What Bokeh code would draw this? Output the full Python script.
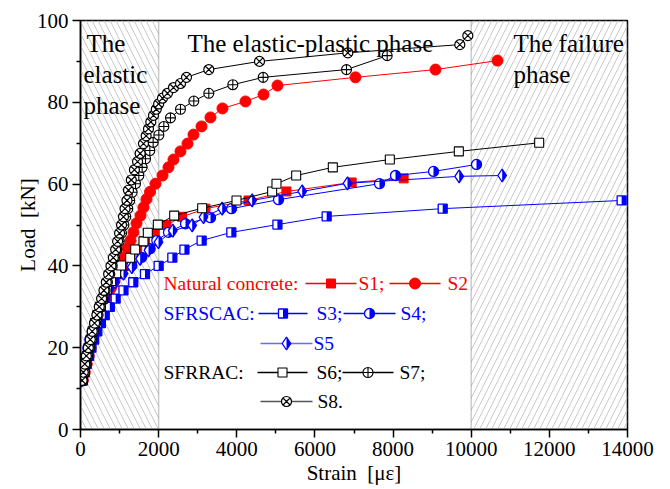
import math
from bokeh.plotting import figure
from bokeh.models import Range1d, FixedTicker, BoxAnnotation, Label
from bokeh.embed import file_html
from bokeh.resources import INLINE

FONT = "Liberation Serif"
RED = "#ff0000"
BLUE = "#0000ff"
BLACK = "#000000"

# ---------------- data (strain in micro-strain, load in kN) ----------------
s1_strain = [40, 80, 120, 170, 220, 270, 330, 400, 470, 550, 640, 740, 850, 980, 1120, 1280, 1450,
             1650, 1900, 2200, 2600, 3200, 4300, 5270, 6940, 8270]
s1_load = [12, 14, 16, 18, 20, 22, 24, 26, 28, 30, 32, 34, 36, 38, 40, 42, 44,
           46, 48, 50, 52, 54, 56, 58.2, 60.4, 61.4]

s2_strain = [60, 110, 160, 210, 260, 320, 390, 460, 537, 610, 690, 780, 870, 973, 1049, 1126, 1203,
             1280, 1356, 1433, 1536, 1612, 1689, 1780, 1920, 2099, 2252, 2380, 2559, 2739, 2892,
             3097, 3327, 3634, 4223, 4684, 5042, 7038, 9086, 10673]
s2_load = [12, 14, 16, 18, 20, 22, 24, 26, 28.4, 30.5, 32.5, 34.6, 36.4, 38.4, 40.1, 42.1, 44.3,
           46.2, 48.2, 50.4, 52.3, 54.3, 56.3, 58.1, 60.1, 62.1, 64.1, 66.0, 68.0, 69.9, 72.1,
           74.1, 76.3, 78.5, 80.2, 81.9, 84.1, 86.1, 88.0, 90.2]

s3_strain = [60, 110, 160, 220, 280, 350, 430, 520, 620, 750, 900, 1100, 1350, 1650, 2000, 2350,
             2660, 3100, 3860, 5040, 6300, 9270, 13850]
s3_load = [12, 14, 16, 18, 20, 22, 24, 26, 28, 30, 32, 34, 36, 38, 40, 42,
           44, 46.2, 48.2, 50.1, 52.1, 54.0, 56.0]

s4_strain = [30, 60, 100, 140, 190, 240, 300, 360, 430, 510, 610, 717, 845, 1058, 1314, 1569, 1783,
             1953, 2252, 2687, 3327, 3865, 5068, 7653, 8062, 9035, 10135]
s4_load = [12, 14, 16, 18, 20, 22, 24, 26, 28, 30, 32, 34.6, 36.4, 38.1, 40.1, 42.1, 44.2,
           46.2, 48.2, 50.3, 51.8, 54.0, 56.2, 60.1, 62.1, 63.1, 64.8]

s5_strain = [30, 60, 100, 140, 190, 240, 300, 360, 430, 520, 631, 717, 887, 1100, 1314, 1527, 1740,
             1996, 2363, 2858, 3148, 3626, 4393, 5674, 6834, 9692, 10793]
s5_load = [12, 14, 16, 18, 20, 22, 24, 26, 28, 30, 32, 34, 36, 38.1, 39.7, 41.7, 43.8,
           45.8, 48.6, 49.9, 51.9, 54.0, 56.0, 58.2, 60.2, 61.9, 62.1]

s6_strain = [50, 90, 130, 170, 210, 260, 310, 370, 430, 500, 580, 674, 785, 913, 1041, 1271, 1400,
             1612, 1723, 1979, 2398, 3114, 3993, 4905, 5016, 5520, 6458, 7917, 9683, 11739]
s6_load = [12, 14, 16, 18, 20, 22, 24, 26, 28, 30, 32, 34.2, 36.3, 38.2, 40.1, 42, 44,
           46, 48.1, 50.1, 52.3, 54.1, 56, 58.2, 60.1, 62.1, 64.1, 66, 68, 70.1]

s7_strain = [60, 100, 140, 180, 230, 280, 330, 390, 450, 510, 570, 630, 690, 750, 810, 870, 930,
             990, 1050, 1110, 1160, 1210, 1260, 1322, 1408, 1493, 1578, 1664, 1774, 1860, 2005,
             2133, 2303, 2559, 2900, 3284, 3898, 4675, 6808, 7849]
s7_load = [12, 14, 16, 18, 20, 22, 24, 26, 28, 30, 32, 34, 36, 38, 40, 42, 44,
           46, 48, 50, 52, 54, 56, 58, 60.1, 62.1, 64.1, 66.2, 68.2, 70.2, 72,
           74.1, 76.2, 78.3, 80.3, 82.2, 84.3, 86.1, 88, 91.4]

s8_strain = [40, 70, 110, 150, 200, 250, 300, 360, 420, 480, 540, 600, 660, 720, 780, 840, 900,
             950, 1000, 1050, 1100, 1140, 1190, 1228, 1300, 1380, 1460, 1527, 1612, 1680, 1740,
             1800, 1868, 1940, 2000, 2099, 2226, 2380, 2560, 2713, 3284, 4581, 6842, 9708, 9913]
s8_load = [12, 14, 16, 18, 20, 22, 24, 26, 28, 30, 32, 34, 36, 38, 40, 42, 44,
           46, 48, 50, 52, 54, 56, 58.5, 61, 63.5, 65.5, 67.5, 69.9, 71.8, 73.5,
           75.2, 76.8, 78.3, 79.6, 81, 82.2, 83.6, 84.6, 86.1, 88.0, 90.0, 92.1, 94.1, 96.3]

phase_edges = [0, 2000, 10000, 14000]
x_ticks = [0, 2000, 4000, 6000, 8000, 10000, 12000, 14000]
x_minor = [1000, 3000, 5000, 7000, 9000, 11000, 13000]
y_ticks = [0, 20, 40, 60, 80, 100]
y_minor = [10, 30, 50, 70, 90]

# ---------------- layout ----------------
W, H = 670, 489
BL, BR, BT, BB = 80, 43, 20, 60
FW = W - BL - BR
FH = H - BT - BB
XPX = (x_ticks[-1] - x_ticks[0]) / FW   # data units per screen px
YPX = (y_ticks[-1] - y_ticks[0]) / FH
FX0 = BL          # page px of frame left
FY0 = BT + FH     # page px of frame bottom


def sx(px):
    return (px - FX0) * XPX


def sy(py):
    return (FY0 - py) * YPX


p = figure(width=W, height=H, output_backend="svg", toolbar_location=None,
           x_range=Range1d(x_ticks[0], x_ticks[-1]), y_range=Range1d(y_ticks[0], y_ticks[-1]),
           min_border_left=BL, min_border_right=BR, min_border_top=BT, min_border_bottom=BB)
p.xgrid.visible = False
p.ygrid.visible = False
p.outline_line_color = "black"
p.outline_line_width = 1.5
p.background_fill_color = "white"
p.border_fill_color = "white"

p.xaxis.ticker = FixedTicker(ticks=x_ticks, minor_ticks=x_minor)
p.yaxis.ticker = FixedTicker(ticks=y_ticks, minor_ticks=y_minor)
p.xaxis.axis_label = "Strain\u00a0 [\u03bc\u03b5]"
p.yaxis.axis_label = "Load\u00a0 [kN]"
for ax in (p.xaxis[0], p.yaxis[0]):
    ax.axis_line_width = 1.5
    ax.major_tick_line_width = 1.5
    ax.minor_tick_line_width = 1.5
    ax.major_tick_out = 8
    ax.major_tick_in = 0
    ax.minor_tick_out = 4
    ax.minor_tick_in = 0
    ax.major_label_text_font = FONT
    ax.major_label_text_font_size = "21px"
    ax.major_label_text_color = "black"
    ax.major_label_standoff = 4
    ax.axis_label_text_font = FONT
    ax.axis_label_text_font_size = "21px"
    ax.axis_label_text_font_style = "normal"
    ax.axis_label_text_color = "black"
p.xaxis.axis_label_standoff = 2
p.yaxis.axis_label_standoff = -6

# phase regions
p.add_layout(BoxAnnotation(left=phase_edges[0], right=phase_edges[1], fill_alpha=0,
                           hatch_pattern="\\", hatch_color="#c8c8c8", hatch_weight=1, hatch_scale=12,
                           line_color="#555555", line_width=1.5, level="underlay"))
p.add_layout(BoxAnnotation(left=phase_edges[2], right=phase_edges[3], fill_alpha=0,
                           hatch_pattern="/", hatch_color="#c8c8c8", hatch_weight=1, hatch_scale=12,
                           line_color="#555555", line_width=1.5, level="underlay"))


def draw_marks(xs, ys, kind, color):
    if kind == "sq":
        p.scatter(xs, ys, marker="square", size=9, fill_color=color, line_color=color)
    elif kind == "ci":
        p.scatter(xs, ys, marker="circle", size=11, fill_color=color, line_color=color)
    elif kind == "sqh":
        p.scatter(xs, ys, marker="square", size=9, fill_color="white", line_color=color, line_width=1.3)
        p.rect([x + 2.25 * XPX for x in xs], ys, width=4.5, height=9,
               width_units="screen", height_units="screen", fill_color=color, line_color=None)
    elif kind == "cih":
        p.scatter(xs, ys, marker="circle", size=10, fill_color="white", line_color=color, line_width=1.3)
        p.wedge(xs, ys, radius=5, radius_units="screen", start_angle=-math.pi / 2,
                end_angle=math.pi / 2, fill_color=color, line_color=None)
    elif kind == "dih":
        r = 6.5
        hw = r / 1.5
        p.scatter(xs, ys, marker="diamond", size=2 * r, fill_color="white", line_color=color, line_width=1.3)
        p.patches([[x, x + hw * XPX, x] for x in xs], [[y + r * YPX, y, y - r * YPX] for y in ys],
                  fill_color=color, line_color=None)
    elif kind == "osq":
        p.scatter(xs, ys, marker="square", size=9, fill_color="white", line_color=color, line_width=1.1)
    elif kind == "cc":
        p.scatter(xs, ys, marker="circle_cross", size=10, fill_color="white", line_color=color, line_width=1.1)
    elif kind == "cx":
        p.scatter(xs, ys, marker="circle_x", size=10, fill_color="white", line_color=color, line_width=1.2)


series = [
    (s1_strain, s1_load, "sq", RED),
    (s2_strain, s2_load, "ci", RED),
    (s3_strain, s3_load, "sqh", BLUE),
    (s4_strain, s4_load, "cih", BLUE),
    (s5_strain, s5_load, "dih", BLUE),
    (s6_strain, s6_load, "osq", BLACK),
    (s7_strain, s7_load, "cc", BLACK),
    (s8_strain, s8_load, "cx", BLACK),
]
for xs, ys, kind, color in series:
    p.line(xs, ys, line_color=color, line_width=1)
    draw_marks(xs, ys, kind, color)

# phase titles (page px positions)
phase_text = [
    ("The", 86, 43), ("elastic", 83, 74), ("phase", 83, 105),
    ("The elastic-plastic phase", 187, 43),
    ("The failure", 513, 43), ("phase", 513, 74),
]
for t, px, py in phase_text:
    p.add_layout(Label(x=sx(px), y=sy(py), text=t, text_font=FONT, text_font_size="25px",
                       text_color="black", text_baseline="alphabetic", text_align="left"))

# legend (page px positions)
group_labels = [("Natural concrete:", 163, 283, RED), ("SFRSCAC:", 163, 313, BLUE), ("SFRRAC:", 163, 372, BLACK)]
for t, px, py, c in group_labels:
    p.add_layout(Label(x=sx(px), y=sy(py), text=t, text_font=FONT, text_font_size="19.5px",
                       text_color=c, text_baseline="middle", text_align="left"))

legend_items = [
    ("S1;", "sq", RED, RED, 305, 356, 283, 358),
    ("S2", "ci", RED, RED, 389, 440, 283, 447),
    ("S3;", "sqh", BLUE, BLUE, 258, 307, 313, 316),
    ("S4;", "cih", BLUE, BLUE, 343, 395, 313, 400),
    ("S5", "dih", BLUE, "#6a6aff", 260, 312, 343, 313),
    ("S6;", "osq", BLACK, BLACK, 257, 307, 372, 316),
    ("S7;", "cc", BLACK, BLACK, 342, 393, 372, 399),
    ("S8.", "cx", BLACK, "#555555", 260, 312, 401, 317),
]
for t, kind, c, lc, x0, x1, py, tx in legend_items:
    p.segment(x0=[sx(x0)], y0=[sy(py)], x1=[sx(x1)], y1=[sy(py)], line_color=lc, line_width=1.3)
    draw_marks([sx((x0 + x1) / 2)], [sy(py)], kind, c)
    p.add_layout(Label(x=sx(tx), y=sy(py), text=t, text_font=FONT, text_font_size="19.5px",
                       text_color=c, text_baseline="middle", text_align="left"))

open("out.html", "w").write(file_html(p, INLINE))
